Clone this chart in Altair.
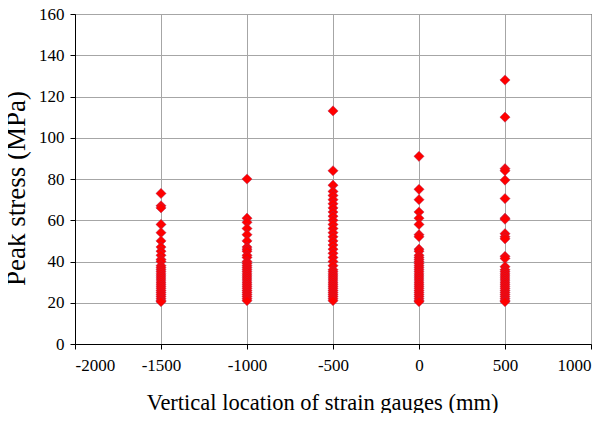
import altair as alt
import pandas as pd

loc_m1500 = [73, 67, 66, 58, 54, 50, 47, 45, 43, 41, 40, 38, 37, 36, 35, 34, 33, 32, 31, 30,
             29, 28, 27, 26, 25, 24, 23, 22, 21, 20.5]
loc_m1000 = [80, 61, 59, 56, 53, 50, 47, 46, 45, 43, 42, 40, 39, 38, 37, 36, 35, 34, 33, 32,
             31, 30, 29, 28, 27, 26, 25, 24, 23, 22, 21]
loc_m500 = [113, 84, 77, 74, 72, 70, 68, 66, 64, 62, 60, 58, 56, 54, 52, 50, 48, 46, 44, 42,
            40, 38, 36, 35, 34, 33, 32, 31, 30, 29, 28, 27, 26, 25, 24, 23, 22, 21]
loc_0 = [91, 75, 70, 64, 61, 58, 53, 52, 46, 45, 43, 42, 41, 40, 39, 38, 37, 36, 35, 34,
         33, 32, 31, 30, 29, 28, 27, 26, 25, 24, 23, 22, 21, 20.5]
loc_500 = [128, 110, 85, 84, 79.5, 70.5, 61, 60.5, 53.5, 52, 51, 42.5, 41.5, 37.5, 36, 35, 34,
           33, 32, 31, 30, 29, 28, 27, 26, 25, 24, 23, 22, 21, 20.5]

locations = [-1500, -1000, -500, 0, 500]
series = [loc_m1500, loc_m1000, loc_m500, loc_0, loc_500]
x_ticks = [-2000, -1500, -1000, -500, 0, 500, 1000]
y_ticks = [0, 20, 40, 60, 80, 100, 120, 140, 160]

rows = []
for loc, vals in zip(locations, series):
    for v in vals:
        rows.append({"loc": loc, "stress": v})
df = pd.DataFrame(rows)

font = "Liberation Serif"

chart = alt.Chart(df).mark_point(
    shape="diamond", filled=True, size=105, fill="#FF0000",
    stroke="#993366", strokeWidth=0.4, opacity=1
).encode(
    x=alt.X("loc:Q", scale=alt.Scale(domain=[-2000, 1000], nice=False, zero=False),
            axis=alt.Axis(values=x_ticks, labelExpr="toString(datum.value)",
                          title="Vertical location of strain gauges (mm)",
                          labelFont=font, labelFontSize=17,
                          titleFont=font, titleFontSize=22.5, titlePadding=18, labelPadding=8,
                          titleX=247, titleAlign="center")),
    y=alt.Y("stress:Q", scale=alt.Scale(domain=[0, 160], nice=False),
            axis=alt.Axis(values=y_ticks, labelExpr="toString(datum.value)",
                          title="Peak stress (MPa)",
                          labelFont=font, labelFontSize=17,
                          titleFont=font, titleFontSize=27, titlePadding=8, labelPadding=6,
                          titleY=174, titleAlign="center")),
).properties(
    width=516, height=330,
    autosize=alt.AutoSizeParams(type="none"),
    padding={"left": 67, "top": 6, "right": 12, "bottom": 69},
).configure_view(
    stroke="black", strokeWidth=1
).configure_axis(
    labelColor="black", titleColor="black", titleFontWeight="normal",
    domainColor="black", domainWidth=1, tickColor="black", tickSize=5, tickWidth=1,
    gridColor="#A6A6A6", gridWidth=1,
)

chart.save("out.html", embed_options={"renderer": "svg", "actions": False})
